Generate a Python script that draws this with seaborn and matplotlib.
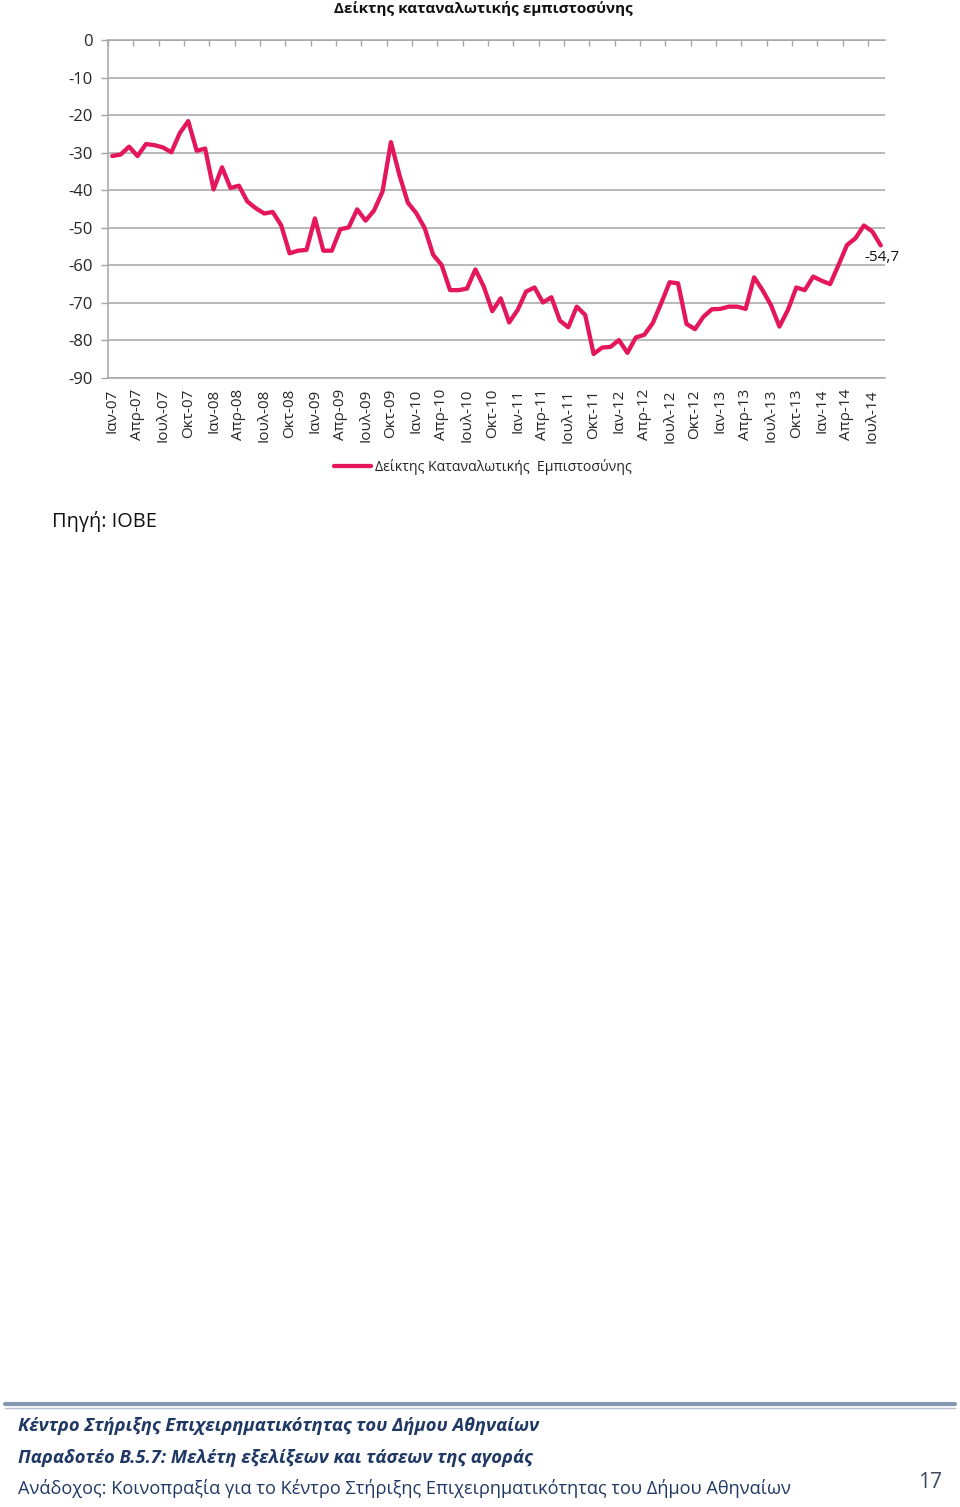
import numpy as np
import pandas as pd
import matplotlib
matplotlib.use("Agg")
import matplotlib.pyplot as plt
import seaborn as sns

# ---------------- data ----------------
months_gr = ["Ιαν", "Φεβ", "Μαρ", "Απρ", "Μαϊ", "Ιουν", "Ιουλ", "Αυγ", "Σεπ", "Οκτ", "Νοε", "Δεκ"]
years = list(range(2007, 2015))
values = [
    -30.9, -30.5, -28.4, -30.9, -27.7, -28.0, -28.6, -29.9, -24.8, -21.6, -29.5, -28.9,   # 2007
    -39.8, -33.9, -39.4, -38.8, -43.0, -44.8, -46.2, -45.8, -49.3, -56.8, -56.1, -55.9,   # 2008
    -47.5, -56.1, -56.1, -50.4, -49.9, -45.1, -48.1, -45.4, -40.4, -27.2, -35.9, -43.3,   # 2009
    -46.1, -50.1, -57.2, -59.9, -66.6, -66.6, -66.2, -61.1, -65.7, -72.2, -68.8, -75.2,   # 2010
    -71.9, -67.0, -65.9, -69.9, -68.5, -74.7, -76.5, -71.0, -73.2, -83.6, -81.9, -81.7,   # 2011
    -79.9, -83.3, -79.2, -78.5, -75.4, -70.1, -64.5, -64.8, -75.6, -77.0, -73.7, -71.7,   # 2012
    -71.6, -71.0, -71.0, -71.6, -63.2, -66.6, -70.6, -76.3, -71.9, -65.9, -66.6, -63.0,   # 2013
    -64.1, -65.0, -59.9, -54.6, -52.8, -49.4, -51.0, -54.7,                              # 2014
]
labels = [f"{m}-{str(y)[2:]}" for y in years for m in months_gr][:len(values)]
last_label = "-54,7"
series_name = "Δείκτης Καταναλωτικής  Εμπιστοσύνης"
title = "Δείκτης καταναλωτικής εμπιστοσύνης"
source = "Πηγή: ΙΟΒΕ"
footer1 = "Κέντρο Στήριξης Επιχειρηματικότητας του Δήμου Αθηναίων"
footer2 = "Παραδοτέο Β.5.7: Μελέτη εξελίξεων και τάσεων της αγοράς"
footer3 = "Ανάδοχος: Κοινοπραξία για το Κέντρο Στήριξης Επιχειρηματικότητας του Δήμου Αθηναίων"
page_no = "17"

df = pd.DataFrame({"pos": np.arange(len(values)) + 0.5, "value": values, "label": labels})

# ---------------- style ----------------
sns.set_theme(style="white")
plt.rcParams["font.family"] = ["Open Sans", "DejaVu Sans"]

LINE = "#E5175C"
GRID = "#A6A6A6"
NAVY = "#1F3864"

W, H = 960, 1507
fig = plt.figure(figsize=(W / 100, H / 100), dpi=100)
fig.patch.set_facecolor("white")

x0, x1, y0, y1 = 108, 885, 40, 378
ax = fig.add_axes([x0 / W, 1 - y1 / H, (x1 - x0) / W, (y1 - y0) / H])

sns.lineplot(data=df, x="pos", y="value", ax=ax, color=LINE, linewidth=3.1,
             label=series_name, legend=False)

n = len(values)
ax.set_xlim(0, n)
ax.set_ylim(-90, 0)
ax.set_yticks(np.arange(-90, 1, 10))
ax.set_yticklabels([str(v) for v in range(-90, 1, 10)], fontsize=12)
ax.yaxis.grid(True, color=GRID, linewidth=1.1)
ax.set_axisbelow(True)

# category labels every 3 months, at category centres
ax.set_xticks(df["pos"].values[::3])
ax.set_xticklabels(df["label"].values[::3], rotation=90, fontsize=11)
ax.set_xticks(np.arange(0, n + 1, 3), minor=True)
ax.tick_params(axis="x", which="major", length=0, pad=8, bottom=True, top=False)
ax.tick_params(axis="x", which="minor", bottom=False, top=True, direction="in",
               length=4, width=1, color=GRID)
ax.tick_params(axis="y", which="major", left=True, length=5, width=1, color=GRID, pad=6)
ax.set_xlabel("")
ax.set_ylabel("")

for s in ["right"]:
    ax.spines[s].set_visible(False)
for s in ["left", "top", "bottom"]:
    ax.spines[s].set_color(GRID)
    ax.spines[s].set_linewidth(1.1)

# data label on last point
ax.annotate(last_label, xy=(df["pos"].iloc[-1], values[-1]), xytext=(1, -3),
            textcoords="offset points", ha="center", va="top", fontsize=11,
            color="#111111")

# title
fig.text(483 / W, 1 - 9 / H, title, ha="center", va="center", fontsize=11,
         fontweight="bold", color="#111111")

# legend
handles, lbls = ax.get_legend_handles_labels()
fig.legend(handles, lbls, loc="center", bbox_to_anchor=(483 / W, 1 - 467 / H),
           frameon=False, fontsize=10.2, handlelength=2.6, handletextpad=0.3)

# source
fig.text(52 / W, 1 - 521 / H, source, ha="left", va="center", fontsize=14.3, color="#111111")

# footer rule
fig.add_artist(plt.Line2D([5 / W, 955 / W], [1 - 1404 / H, 1 - 1404 / H],
                          color="#8497B0", linewidth=3.0))
fig.add_artist(plt.Line2D([5 / W, 955 / W], [1 - 1407.5 / H, 1 - 1407.5 / H],
                          color="#B4C0D2", linewidth=1.0))

fig.text(18 / W, 1 - 1426 / H, footer1, ha="left", va="center", fontsize=13.2,
         fontweight="bold", style="italic", color=NAVY)
fig.text(18 / W, 1 - 1458 / H, footer2, ha="left", va="center", fontsize=13.2,
         fontweight="bold", style="italic", color=NAVY)
fig.text(18 / W, 1 - 1489 / H, footer3, ha="left", va="center", fontsize=13.1,
         color=NAVY)
fig.text(930 / W, 1 - 1482 / H, page_no, ha="center", va="center", fontsize=15,
         color="#3A4A60")

fig.savefig("out.png", dpi=100, facecolor="white")
